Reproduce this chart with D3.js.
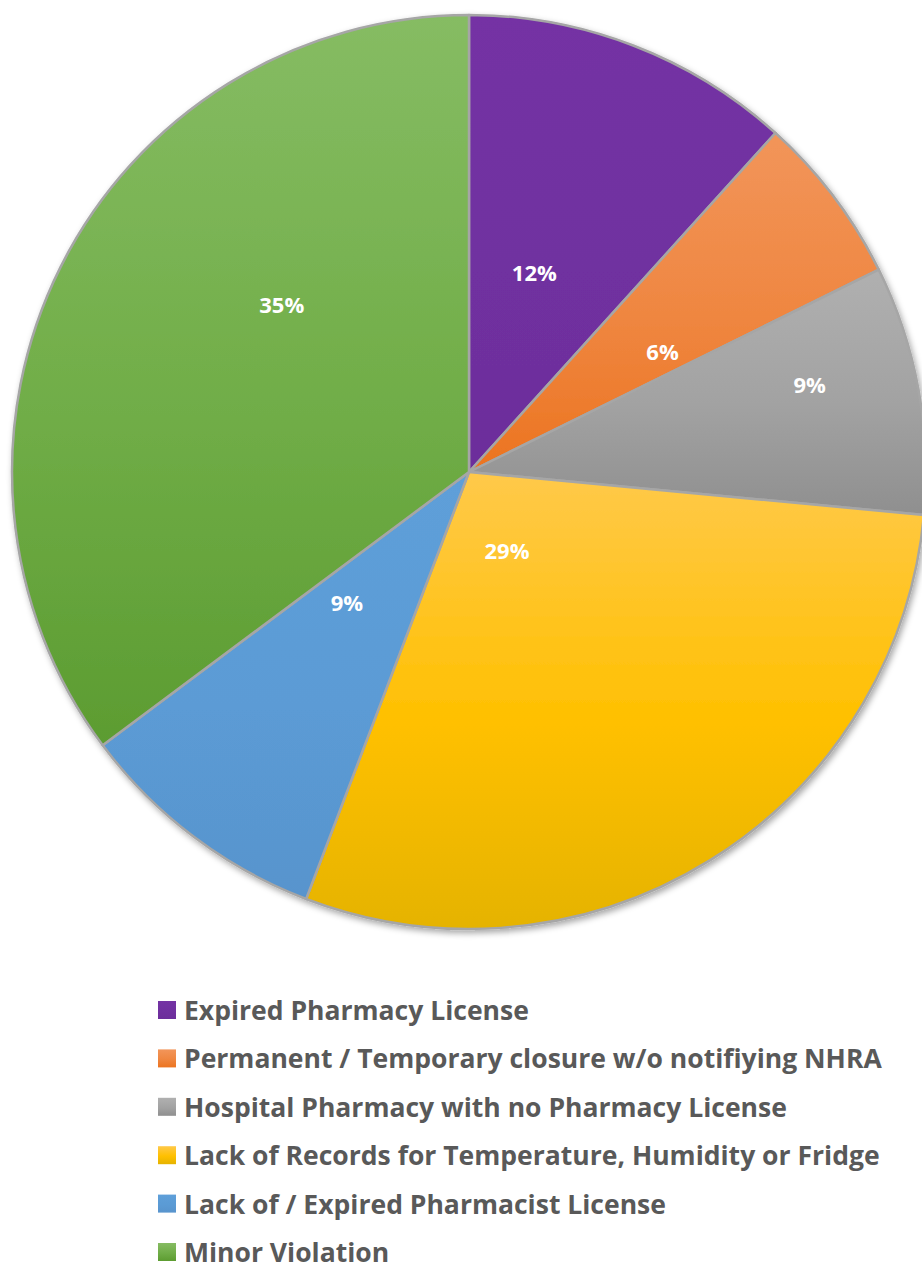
<!DOCTYPE html>
<html>
<head>
<meta charset="utf-8">
<script src="https://cdn.jsdelivr.net/npm/d3@7"></script>
<style>
  html, body { margin: 0; padding: 0; background: #ffffff; }
  svg { display: block; }
</style>
</head>
<body>
<svg id="chart" width="922" height="1270"></svg>
<script>
// ---- data ----
const categories = [
  "Expired Pharmacy License",
  "Permanent / Temporary closure w/o notifiying NHRA",
  "Hospital Pharmacy with no Pharmacy License",
  "Lack of Records for Temperature, Humidity or Fridge",
  "Lack of / Expired Pharmacist License",
  "Minor Violation"
];
const values = [11.7, 6.0, 8.8, 29.3, 9.0, 35.2];
const labels = ["12%", "6%", "9%", "29%", "9%", "35%"];
const topColors = ["#7433a4", "#f2955a", "#b0b0b0", "#ffc94a", "#5e9fd9", "#86bc63"];
const midColors = ["#7030a0", "#ef8640", "#a2a2a2", "#ffc000", "#5b9bd5", "#70ad47"];
const bottomColors = ["#6c2e9b", "#ec7420", "#8f8f8f", "#e5b300", "#5894cd", "#5c9c31"];
// label placement within each slice: fraction of radius, fraction of slice angle
const labelRadius = [0.46, 0.50, 0.77, 0.19, 0.39, 0.55];
const labelAngle = [0.43, 0.73, 0.37, 0.556, 0.69, 0.62];

// ---- layout ----
const svg = d3.select("#chart");
const cx = 469, cy = 472, R = 457;

const defs = svg.append("defs");
const f = defs.append("filter").attr("id", "shadow")
  .attr("x", "-10%").attr("y", "-10%").attr("width", "120%").attr("height", "120%");
f.append("feDropShadow").attr("dx", 2).attr("dy", 3).attr("stdDeviation", 3)
  .attr("flood-color", "#000").attr("flood-opacity", 0.35);

categories.forEach((c, i) => {
  const g = defs.append("linearGradient").attr("id", "grad" + i)
    .attr("x1", 0).attr("y1", 0).attr("x2", 0).attr("y2", 1);
  g.append("stop").attr("offset", "0%").attr("stop-color", topColors[i]);
  g.append("stop").attr("offset", "55%").attr("stop-color", midColors[i]);
  g.append("stop").attr("offset", "100%").attr("stop-color", bottomColors[i]);
});

const pie = d3.pie().sort(null).value(d => d)(values);
const arc = d3.arc().innerRadius(0).outerRadius(R);

const gPie = svg.append("g").attr("transform", `translate(${cx},${cy})`);
gPie.append("g").attr("filter", "url(#shadow)")
  .selectAll("path").data(pie).join("path")
  .attr("d", arc)
  .attr("fill", (d, i) => `url(#grad${i})`)
  .attr("stroke", "#a6a6a6")
  .attr("stroke-width", 2.5)
  .attr("stroke-linejoin", "round");

gPie.selectAll("text.lbl").data(pie).join("text")
  .attr("class", "lbl")
  .attr("transform", (d, i) => {
    const a = d.startAngle + (d.endAngle - d.startAngle) * labelAngle[i];
    const r = R * labelRadius[i];
    return `translate(${r * Math.sin(a)},${-r * Math.cos(a)})`;
  })
  .attr("text-anchor", "middle")
  .attr("dominant-baseline", "central")
  .attr("font-family", "'Open Sans', sans-serif")
  .attr("font-weight", "bold")
  .attr("font-size", 22)
  .attr("fill", "#ffffff")
  .text((d, i) => labels[i]);

// ---- legend ----
const legendY = d3.scalePoint().domain(categories).range([1010, 1252]);
const lg = svg.append("g");
const rows = lg.selectAll("g").data(categories).join("g")
  .attr("transform", d => `translate(0,${legendY(d)})`);
rows.append("rect")
  .attr("x", 158).attr("y", -9).attr("width", 18).attr("height", 18)
  .attr("fill", (d, i) => `url(#grad${i})`);
const texts = rows.append("text")
  .attr("x", 184).attr("y", 0)
  .attr("dominant-baseline", "central")
  .attr("font-family", "'Open Sans', sans-serif")
  .attr("font-weight", "bold")
  .attr("font-size", 26)
  .attr("fill", "#595959")
  .text(d => d);
// fit the longest entry to the reference width
let maxW = 0;
texts.each(function () { maxW = Math.max(maxW, this.getComputedTextLength()); });
const fs = 26 * 698 / maxW;
texts.attr("font-size", fs);
</script>
</body>
</html>
